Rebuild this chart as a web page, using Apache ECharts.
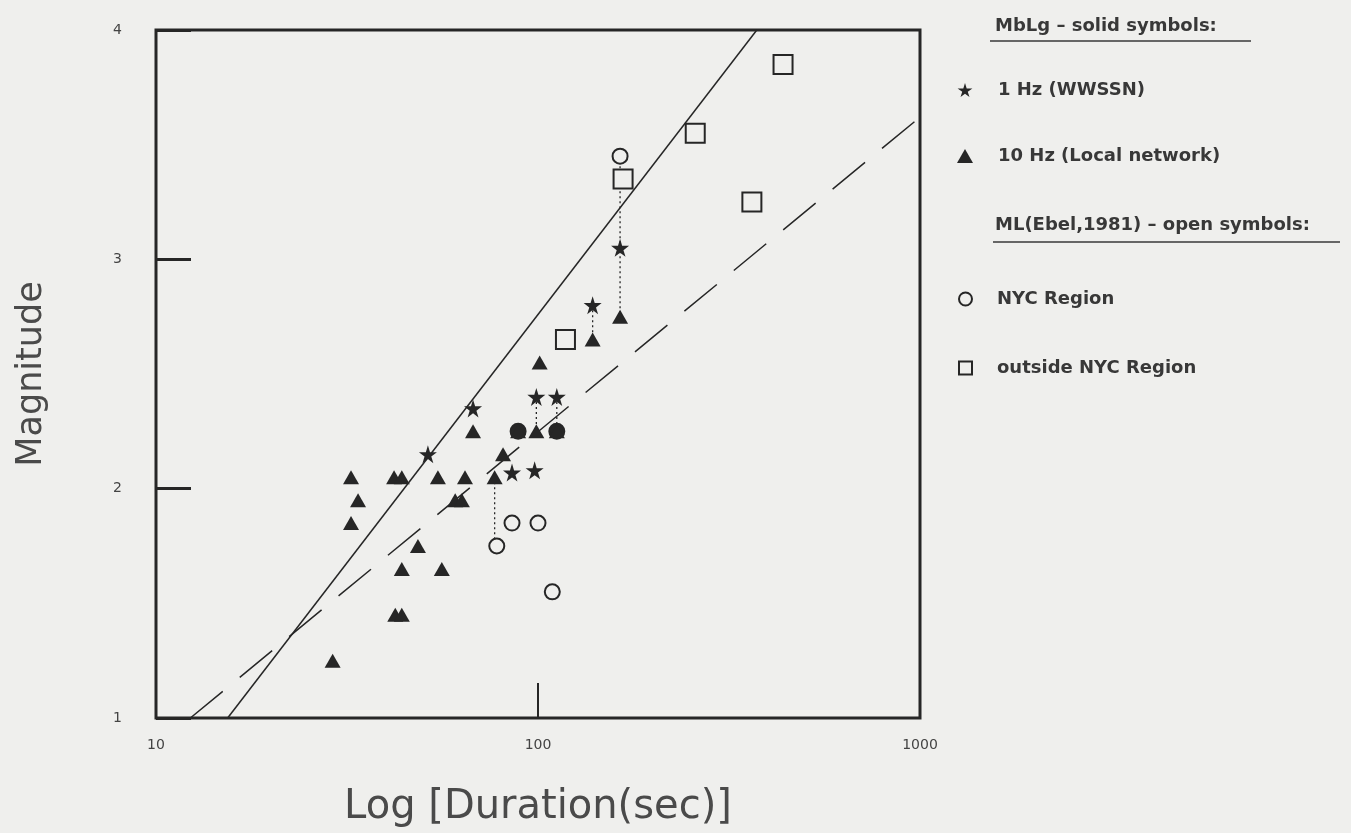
<!DOCTYPE html>
<html>
<head>
<meta charset="utf-8">
<title>Magnitude vs Log Duration</title>
<script src="https://cdn.jsdelivr.net/npm/echarts@6/dist/echarts.min.js"></script>
<style>
  html, body { margin: 0; padding: 0; background: #efefed; }
  #chart { width: 1351px; height: 833px; }
</style>
</head>
<body>
<div id="chart"></div>
<script>
// MbLg 1 Hz (WWSSN) - stars
const starDur = [51.5, 67.6, 85.5, 98, 99, 112, 139, 164];
const starMag = [2.15, 2.35, 2.07, 2.08, 2.4, 2.4, 2.8, 3.05];
// MbLg 10 Hz (local network) - triangles
const triDur = [29, 32.4, 33.8, 32.4, 42, 44, 48.5, 44, 56, 42.3, 44, 54.7, 64.4, 60.7, 63.2, 67.6, 77, 81, 88.7, 99, 112, 101, 139, 164];
const triMag = [1.25, 2.05, 1.95, 1.85, 2.05, 2.05, 1.75, 1.65, 1.65, 1.45, 1.45, 2.05, 2.05, 1.95, 1.95, 2.25, 2.05, 2.15, 2.25, 2.25, 2.25, 2.55, 2.65, 2.75];
// ML (Ebel, 1981) NYC region - open circles (the two on top of a solid symbol print as filled)
const nycDur = [78, 85.5, 100, 109, 88.7, 112, 164];
const nycMag = [1.75, 1.85, 1.85, 1.55, 2.25, 2.25, 3.45];
const nycOverlap = [false, false, false, false, true, true, false];
// ML (Ebel, 1981) outside NYC region - open squares
const outDur = [118, 167, 258, 363, 438];
const outMag = [2.65, 3.35, 3.55, 3.25, 3.85];
// fitted lines (end points)
const solidFitDur = [15.4, 374];
const solidFitMag = [1, 4];
const dashFitDur = [12.3, 1000];
const dashFitMag = [1, 3.62];
// dotted links between magnitudes of the same event
const linkDur = [77, 99, 112, 139, 164];
const linkTop = [2.05, 2.4, 2.4, 2.8, 3.45];
const linkBot = [1.75, 2.25, 2.25, 2.65, 2.75];

const xTicks = [10, 100, 1000];
const yTicks = [1, 2, 3, 4];

const ink = '#262626';
const textInk = '#383838';
const bg = '#efefed';
const starPath = 'path://M50,0 L61,35 L98,35 L68,57 L79,91 L50,70 L21,91 L32,57 L2,35 L39,35 Z';

function pairs(xs, ys) {
  return xs.map((x, i) => [x, ys[i]]);
}

const chart = echarts.init(document.getElementById('chart'));

const linkSeries = linkDur.map((d, i) => ({
  type: 'line',
  data: [[d, linkTop[i]], [d, linkBot[i]]],
  symbol: 'none',
  silent: true,
  z: 1,
  lineStyle: { color: ink, width: 1.3, type: [2, 3] }
}));

const nycData = nycDur.map((d, i) => (
  nycOverlap[i]
    ? { value: [d, nycMag[i]], itemStyle: { color: ink } }
    : [d, nycMag[i]]
));

const legendText = { color: textInk, fontSize: 18, fontWeight: 'bold', padding: [0, 0, 0, 20] };

const option = {
  backgroundColor: bg,
  animation: false,
  textStyle: { fontFamily: 'DejaVu Sans' },
  grid: {
    left: 156, right: 431, top: 30, bottom: 115,
    show: true, borderColor: ink, borderWidth: 3, backgroundColor: 'transparent'
  },
  legend: [
    {
      orient: 'vertical', left: 952, top: 76, itemGap: 48, itemWidth: 16, itemHeight: 14,
      textStyle: legendText,
      data: [
        { name: '1 Hz (WWSSN)', icon: starPath },
        { name: '10 Hz (Local network)', icon: 'triangle' }
      ]
    },
    {
      orient: 'vertical', left: 953, top: 285, itemGap: 51, itemWidth: 13, itemHeight: 13,
      textStyle: legendText,
      data: ['NYC Region', 'outside NYC Region']
    }
  ],
  graphic: [
    { type: 'text', left: 995, top: 17, style: { text: 'MbLg \u2013 solid symbols:', fill: textInk, font: 'bold 18px DejaVu Sans' } },
    { type: 'line', shape: { x1: 990, y1: 41, x2: 1251, y2: 41 }, style: { stroke: textInk, lineWidth: 1.5 } },
    { type: 'text', left: 995, top: 216, style: { text: 'ML(Ebel,1981) \u2013 open symbols:', fill: textInk, font: 'bold 18px DejaVu Sans' } },
    { type: 'line', shape: { x1: 993, y1: 242, x2: 1340, y2: 242 }, style: { stroke: textInk, lineWidth: 1.5 } }
  ],
  xAxis: {
    type: 'log', logBase: 10, min: 10, max: 1000,
    name: 'Log [Duration(sec)]', nameLocation: 'middle', nameGap: 70,
    nameTextStyle: { fontSize: 40, color: '#4a4a4a', fontFamily: 'DejaVu Sans' },
    axisLine: { show: false },
    axisTick: { show: true, inside: true, length: 35, lineStyle: { color: ink, width: 2 } },
    minorTick: { show: false },
    splitLine: { show: false },
    axisLabel: {
      margin: 20, fontSize: 14, color: '#444',
      customValues: xTicks, formatter: v => String(Math.round(v))
    }
  },
  yAxis: {
    type: 'value', min: 1, max: 4, interval: 1,
    name: 'Magnitude', nameLocation: 'middle', nameGap: 107,
    nameTextStyle: { fontSize: 35, color: '#4a4a4a', fontFamily: 'DejaVu Sans' },
    axisLine: { show: false },
    axisTick: { show: true, inside: true, length: 35, lineStyle: { color: ink, width: 3 } },
    splitLine: { show: false },
    axisLabel: { margin: 34, fontSize: 14, color: '#444', customValues: yTicks }
  },
  series: [
    {
      name: 'solid fit', type: 'line', data: pairs(solidFitDur, solidFitMag),
      symbol: 'none', silent: true, z: 1,
      lineStyle: { color: ink, width: 1.5 }
    },
    {
      name: 'dashed fit', type: 'line', data: pairs(dashFitDur, dashFitMag),
      symbol: 'none', silent: true, z: 1,
      lineStyle: { color: ink, width: 1.5, type: [42, 22] }
    },
    ...linkSeries,
    {
      name: 'NYC Region', type: 'scatter', data: nycData,
      symbol: 'circle', symbolSize: 15, z: 3,
      itemStyle: { color: bg, borderColor: ink, borderWidth: 2, opacity: 1 }
    },
    {
      name: 'outside NYC Region', type: 'scatter', data: pairs(outDur, outMag),
      symbol: 'rect', symbolSize: 19, z: 3,
      itemStyle: { color: bg, borderColor: ink, borderWidth: 2, opacity: 1 }
    },
    {
      name: '10 Hz (Local network)', type: 'scatter', data: pairs(triDur, triMag),
      symbol: 'triangle', symbolSize: [16, 14], z: 4,
      itemStyle: { color: ink, opacity: 1 }
    },
    {
      name: '1 Hz (WWSSN)', type: 'scatter', data: pairs(starDur, starMag),
      symbol: starPath, symbolSize: 18, z: 4,
      itemStyle: { color: ink, opacity: 1 }
    }
  ]
};

chart.setOption(option);
</script>
</body>
</html>
